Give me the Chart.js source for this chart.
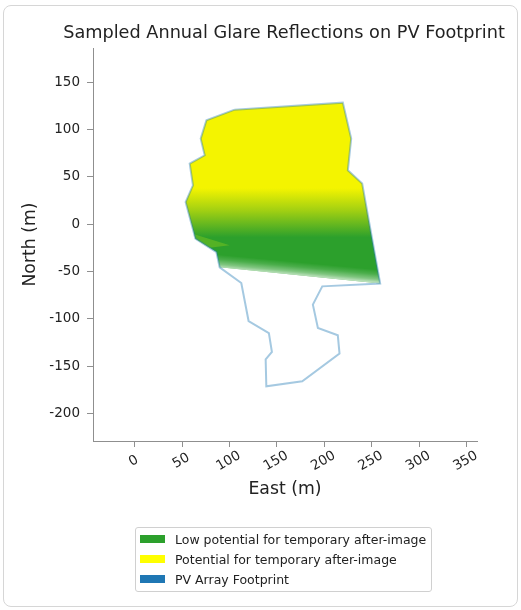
<!DOCTYPE html>
<html>
<head>
<meta charset="utf-8">
<script src="https://cdn.jsdelivr.net/npm/chart.js@4.4.1/dist/chart.umd.min.js"></script>
<style>
  html, body { margin: 0; padding: 0; background: #fff; }
  #wrap { position: relative; width: 521px; height: 610px; overflow: hidden; }
  #frame { position: absolute; left: 3px; top: 5px; width: 513px; height: 600px;
           border: 1px solid #d6d6d6; border-radius: 8px; pointer-events: none; }
  #glare { position: absolute; left: 0; top: 0; }
  #legend { position: absolute; left: 135px; top: 527px; width: 297px; height: 65px;
            box-sizing: border-box; border: 1px solid #d0d0d0; border-radius: 3px;
            padding-top: 1px; font-family: 'DejaVu Sans', sans-serif; font-size: 12.5px; color: #222; }
  .item { display: flex; align-items: center; height: 20px; white-space: nowrap; }
  .sw { width: 25px; height: 8px; margin-left: 4px; margin-right: 10px; flex: none; }
</style>
</head>
<body>
<div id="wrap">
  <canvas id="glare" width="521" height="610"></canvas>
  <div id="frame"></div>
  <div id="legend"></div>
</div>
<script>
// PV array footprint outline (m)
const footprintEast  = [105.4, 219.5, 228.3, 224.8, 239.9, 258.9, 197.8, 187.9, 193.2, 214.2, 216.0, 176.7, 138.8, 138.1,
                        144.7, 141.5, 120.1, 112.4, 89.6, 86.1, 64.0, 53.7, 61.4, 58.0, 73.8, 69.6, 75.6, 105.4];
const footprintNorth = [120.9, 128.3, 90.3, 56.8, 42.8, -62.8, -65.7, -85.0, -109.7, -117.4, -136.7, -166.0, -171.3, -142.8,
                        -135.0, -115.0, -102.3, -62.2, -45.6, -29.5, -15.3, 23.3, 41.0, 63.9, 72.7, 90.3, 109.6, 120.9];

// area with sampled glare reflections
const glareEast  = [105.4, 219.5, 228.3, 224.8, 239.9, 258.9, 89.6, 86.1, 64.0, 53.7, 61.4, 58.0, 73.8, 69.6, 75.6, 105.4];
const glareNorth = [120.9, 128.3, 90.3, 56.8, 42.8, -62.8, -45.6, -29.5, -15.3, 23.3, 41.0, 63.9, 72.7, 90.3, 109.6, 120.9];

// sparse samples along the southern edge
const edgeEast  = [86.6, 256.2, 258.9, 89.6, 86.6];
const edgeNorth = [-32.0, -48.0, -62.8, -45.6, -32.0];

// tongue of lighter samples on the west side
const tongueEast  = [62.7, 100.1, 79.0, 64.0, 62.7];
const tongueNorth = [-10.8, -22.4, -25.0, -15.3, -10.8];

const eastTicks  = [0, 50, 100, 150, 200, 250, 300, 350];
const northTicks = [-200, -150, -100, -50, 0, 50, 100, 150];

const legendLabels = ['Low potential for temporary after-image', 'Potential for temporary after-image', 'PV Array Footprint'];
const legendColors = ['#2ca02c', '#ffff00', '#1f77b4'];

const pts = (xs, ys) => xs.map((x, i) => ({x: x, y: ys[i]}));

Chart.defaults.font.family = "'DejaVu Sans', sans-serif";
Chart.defaults.color = '#222';

function glareFill(c) {
  const chart = c.chart;
  if (!chart.chartArea) return '#f4f400';
  const y = chart.scales.y;
  const g = chart.ctx.createLinearGradient(0, y.getPixelForValue(38), 0, y.getPixelForValue(-14));
  g.addColorStop(0, '#f4f400');
  g.addColorStop(0.45, '#a2d012');
  g.addColorStop(1, '#2ca02c');
  return g;
}

// fade across the edge band, perpendicular to its sides
function edgeFill(c) {
  const chart = c.chart;
  if (!chart.chartArea) return 'rgba(255,255,255,0.4)';
  const {x, y} = chart.scales;
  const ax = x.getPixelForValue(edgeEast[0]), ay = y.getPixelForValue(edgeNorth[0]);
  const bx = x.getPixelForValue(edgeEast[1]), by = y.getPixelForValue(edgeNorth[1]);
  const cx = x.getPixelForValue(edgeEast[2]), cy = y.getPixelForValue(edgeNorth[2]);
  const len = Math.hypot(bx - ax, by - ay);
  const nx = -(by - ay) / len, ny = (bx - ax) / len;
  const t = (cx - ax) * nx + (cy - ay) * ny;
  const g = chart.ctx.createLinearGradient(ax, ay, ax + nx * t, ay + ny * t);
  g.addColorStop(0, 'rgba(255,255,255,0)');
  g.addColorStop(0.35, 'rgba(255,255,255,0.15)');
  g.addColorStop(0.7, 'rgba(255,255,255,0.4)');
  g.addColorStop(1, 'rgba(255,255,255,0.75)');
  return g;
}

// rotated east labels centred on their ticks, and a title wider than the axes
const eastLabels = {
  id: 'eastLabels',
  afterLayout(chart) {
    const tb = chart.titleBlock;
    const mid = (chart.chartArea.left + chart.chartArea.right) / 2 - 1;
    tb.left = mid - 250;
    tb.right = mid + 250;
    tb.width = 500;
  },
  afterDraw(chart) {
    const ctx = chart.ctx;
    const sx = chart.scales.x;
    ctx.save();
    ctx.font = '13.5px "DejaVu Sans"';
    ctx.fillStyle = '#222';
    ctx.textAlign = 'center';
    ctx.textBaseline = 'middle';
    sx.ticks.forEach(t => {
      ctx.save();
      ctx.translate(sx.getPixelForValue(t.value) - 1, chart.chartArea.bottom + 20);
      ctx.rotate(-Math.PI / 6);
      ctx.fillText(String(t.value), 0, 0);
      ctx.restore();
    });
    ctx.restore();
  }
};

const axisColor = '#8f8f8f';

new Chart('glare', {
  type: 'scatter',
  data: {
    datasets: [
      {
        label: 'PV Array Footprint',
        data: pts(footprintEast, footprintNorth),
        showLine: true,
        fill: false,
        borderColor: 'rgba(31,119,180,0.4)',
        borderWidth: 2,
        pointRadius: 0,
        order: 0
      },
      {
        label: 'Low potential edge',
        data: pts(edgeEast, edgeNorth),
        showLine: true,
        fill: 'shape',
        backgroundColor: edgeFill,
        borderWidth: 0,
        pointRadius: 0,
        order: 1
      },
      {
        label: 'Low potential tongue',
        data: pts(tongueEast, tongueNorth),
        showLine: true,
        fill: 'shape',
        backgroundColor: 'rgba(111,190,34,0.6)',
        borderWidth: 0,
        pointRadius: 0,
        order: 2
      },
      {
        label: 'Glare',
        data: pts(glareEast, glareNorth),
        showLine: true,
        fill: 'shape',
        backgroundColor: glareFill,
        borderWidth: 0,
        pointRadius: 0,
        order: 3
      }
    ]
  },
  options: {
    responsive: false,
    animation: false,
    devicePixelRatio: 1,
    layout: { padding: { left: 0, top: 0, right: 44, bottom: 110.4 } },
    plugins: {
      legend: { display: false },
      tooltip: { enabled: false },
      title: {
        display: true,
        fullSize: false,
        text: 'Sampled Annual Glare Reflections on PV Footprint',
        color: '#222',
        font: { size: 17.7, weight: 'normal', lineHeight: 1.2 },
        padding: { top: 22.6, bottom: 4.16 }
      }
    },
    scales: {
      x: {
        type: 'linear',
        min: -44,
        max: 361,
        afterBuildTicks: s => { s.ticks = eastTicks.map(v => ({value: v})); },
        afterFit: s => { s.height = 58.6; },
        ticks: { display: false },
        grid: { drawOnChartArea: false, color: axisColor, tickLength: 6 },
        border: { color: axisColor },
        title: { display: true, text: 'East (m)', color: '#222', font: { size: 17.3, lineHeight: 1.2 }, padding: 0 }
      },
      y: {
        type: 'linear',
        min: -229,
        max: 186,
        afterBuildTicks: s => { s.ticks = northTicks.map(v => ({value: v})); },
        afterFit: s => { s.width = 93; },
        ticks: { color: '#222', font: { size: 13.5 }, padding: 7 },
        grid: { drawOnChartArea: false, color: axisColor, tickLength: 6 },
        border: { color: axisColor },
        title: { display: true, text: 'North (m)', color: '#222', font: { size: 17.3, lineHeight: 1.2 }, padding: { top: 20.6, bottom: 0 } }
      }
    }
  },
  plugins: [eastLabels]
});

const legend = document.getElementById('legend');
legendLabels.forEach((lab, i) => {
  const row = document.createElement('div');
  row.className = 'item';
  const sw = document.createElement('span');
  sw.className = 'sw';
  sw.style.background = legendColors[i];
  const tx = document.createElement('span');
  tx.textContent = lab;
  row.appendChild(sw);
  row.appendChild(tx);
  legend.appendChild(row);
});
</script>
</body>
</html>
